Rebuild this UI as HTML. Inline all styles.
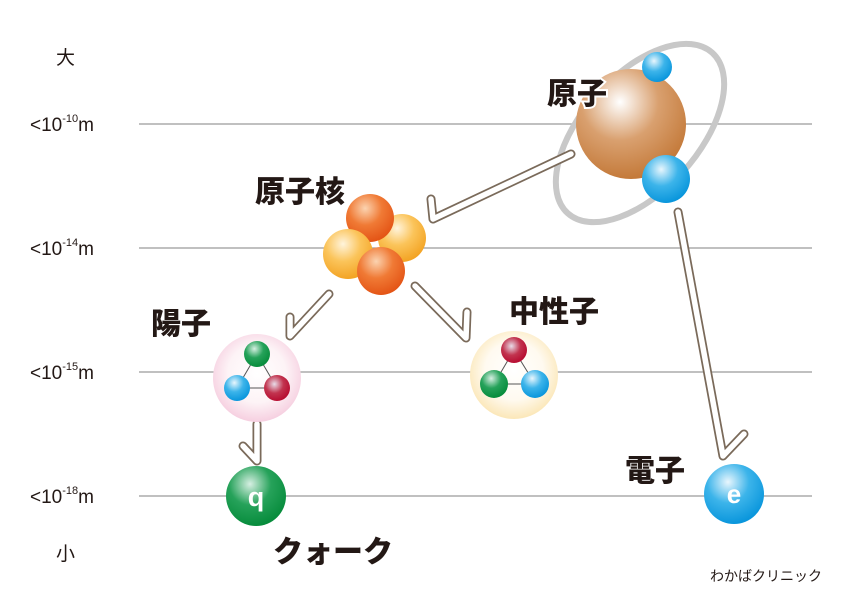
<!DOCTYPE html>
<html><head><meta charset="utf-8"><style>
body{margin:0;background:#fff}
svg{display:block}
text{font-family:"Liberation Sans","Noto Sans CJK JP",sans-serif}
.lb{font-weight:900;font-size:30px;fill:#231815;stroke:#fff;stroke-width:4;paint-order:stroke}
.sc{font-size:19px;fill:#231815}
</style></head><body>
<svg width="842" height="597" viewBox="0 0 842 597">
<defs>
<radialGradient id="gCu" cx="0.4" cy="0.3" r="0.7"><stop offset="0" stop-color="#fff"/><stop offset="0.5" stop-color="#d9a06f"/><stop offset="1" stop-color="#c47a3a"/></radialGradient>
<radialGradient id="gBl" cx="0.4" cy="0.3" r="0.7"><stop offset="0" stop-color="#e8f6fd"/><stop offset="0.5" stop-color="#3cb4ea"/><stop offset="1" stop-color="#0a96dc"/></radialGradient>
<radialGradient id="gOr" cx="0.4" cy="0.3" r="0.7"><stop offset="0" stop-color="#fbd3b0"/><stop offset="0.5" stop-color="#f07a35"/><stop offset="1" stop-color="#e45516"/></radialGradient>
<radialGradient id="gYe" cx="0.4" cy="0.3" r="0.7"><stop offset="0" stop-color="#fff4dc"/><stop offset="0.5" stop-color="#fbc45a"/><stop offset="1" stop-color="#f3a425"/></radialGradient>
<radialGradient id="gGr" cx="0.4" cy="0.3" r="0.7"><stop offset="0" stop-color="#d6efe2"/><stop offset="0.5" stop-color="#26a25a"/><stop offset="1" stop-color="#078c3c"/></radialGradient>
<radialGradient id="gRe" cx="0.4" cy="0.35" r="0.7"><stop offset="0" stop-color="#e8dce8"/><stop offset="0.5" stop-color="#c2344f"/><stop offset="1" stop-color="#b5072c"/></radialGradient>
<radialGradient id="gPk" cx="0.5" cy="0.45" r="0.55"><stop offset="0" stop-color="#fff"/><stop offset="0.6" stop-color="#fdf3f6"/><stop offset="1" stop-color="#f6cfe0"/></radialGradient>
<radialGradient id="gCr" cx="0.5" cy="0.45" r="0.55"><stop offset="0" stop-color="#fff"/><stop offset="0.6" stop-color="#fffaf0"/><stop offset="1" stop-color="#fbe7b8"/></radialGradient>
</defs>
<g stroke="#9a9a9a" stroke-width="1.2">
<line x1="139" y1="124" x2="812" y2="124"/><line x1="139" y1="248" x2="812" y2="248"/>
<line x1="139" y1="372" x2="812" y2="372"/><line x1="139" y1="496" x2="812" y2="496"/>
</g>
<text x="56" y="64" class="sc">大</text>
<text x="56" y="560" class="sc">小</text>
<g class="sc" font-size="21">
<text x="30" y="131">&lt;10<tspan font-size="11" dy="-9">-10</tspan><tspan dy="9">m</tspan></text>
<text x="30" y="255">&lt;10<tspan font-size="11" dy="-9">-14</tspan><tspan dy="9">m</tspan></text>
<text x="30" y="379">&lt;10<tspan font-size="11" dy="-9">-15</tspan><tspan dy="9">m</tspan></text>
<text x="30" y="503">&lt;10<tspan font-size="11" dy="-9">-18</tspan><tspan dy="9">m</tspan></text>
</g>
<ellipse cx="640" cy="133" rx="108" ry="58" fill="none" stroke="#c8c8c8" stroke-width="6" transform="rotate(-48 640 133)"/>
<circle cx="631" cy="124" r="55" fill="url(#gCu)"/>
<circle cx="657" cy="67" r="15" fill="url(#gBl)"/>
<circle cx="666" cy="179" r="24" fill="url(#gBl)"/>
<g fill="none" stroke-linecap="round" stroke-linejoin="round">
<g stroke="#7a6a5a" stroke-width="9">
<polyline points="571,154 433,219 431,199"/>
<polyline points="329,294 290,336 290,317"/>
<polyline points="415,286 466,338 467,312"/>
<polyline points="257,424 257,461 243,446"/>
<polyline points="678,212 723,456 744,434"/>
</g>
<g stroke="#fff" stroke-width="5.5">
<polyline points="571,154 433,219 431,199"/>
<polyline points="329,294 290,336 290,317"/>
<polyline points="415,286 466,338 467,312"/>
<polyline points="257,424 257,461 243,446"/>
<polyline points="678,212 723,456 744,434"/>
</g>
</g>
<circle cx="402" cy="238" r="24" fill="url(#gYe)"/>
<circle cx="370" cy="218" r="24" fill="url(#gOr)"/>
<circle cx="348" cy="254" r="25" fill="url(#gYe)"/>
<circle cx="381" cy="271" r="24" fill="url(#gOr)"/>
<circle cx="257" cy="378" r="44" fill="url(#gPk)"/>
<polygon points="257,354 237,388 277,388" fill="none" stroke="#555" stroke-width="1"/>
<circle cx="257" cy="354" r="13" fill="url(#gGr)"/>
<circle cx="237" cy="388" r="13" fill="url(#gBl)"/>
<circle cx="277" cy="388" r="13" fill="url(#gRe)"/>
<circle cx="514" cy="375" r="44" fill="url(#gCr)"/>
<polygon points="514,350 494,384 535,384" fill="none" stroke="#555" stroke-width="1"/>
<circle cx="514" cy="350" r="13" fill="url(#gRe)"/>
<circle cx="494" cy="384" r="14" fill="url(#gGr)"/>
<circle cx="535" cy="384" r="14" fill="url(#gBl)"/>
<circle cx="256" cy="496" r="30" fill="url(#gGr)"/>
<text x="256" y="506" text-anchor="middle" font-size="27" font-weight="bold" fill="#fff">q</text>
<circle cx="734" cy="494" r="30" fill="url(#gBl)"/>
<text x="734" y="503" text-anchor="middle" font-size="26" font-weight="bold" fill="#fff">e</text>
<text x="547" y="104" class="lb">原子</text>
<text x="255" y="202" class="lb">原子核</text>
<text x="151" y="334" class="lb">陽子</text>
<text x="509" y="322" class="lb">中性子</text>
<text x="625" y="481" class="lb">電子</text>
<text x="273" y="562" class="lb">クォーク</text>
<text x="710" y="581" font-size="14" fill="#231815">わかばクリニック</text>
</svg>
</body></html>
